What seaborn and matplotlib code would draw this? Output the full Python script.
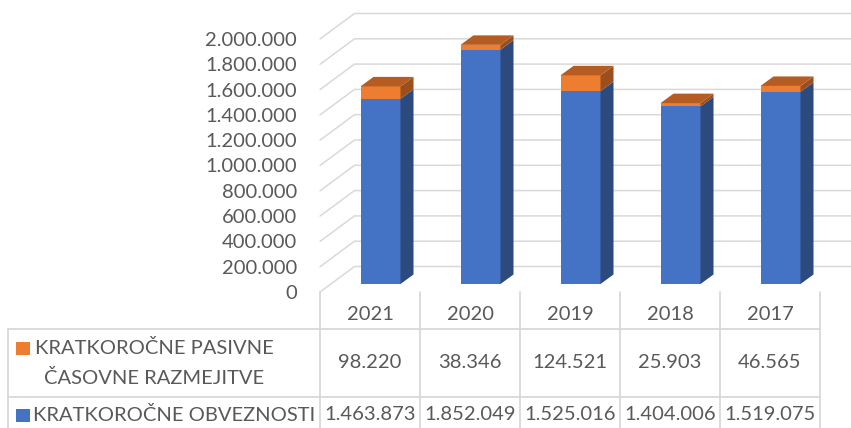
import matplotlib
matplotlib.use("Agg")
import matplotlib.pyplot as plt
import matplotlib.transforms as mtransforms
from matplotlib.lines import Line2D
from matplotlib.patches import Polygon, Rectangle
import seaborn as sns
import pandas as pd

# ---- data -------------------------------------------------------------
years = ["2021", "2020", "2019", "2018", "2017"]
pasivne_razmejitve = [98220, 38346, 124521, 25903, 46565]
obveznosti = [1463873, 1852049, 1525016, 1404006, 1519075]
label_razmejitve = ["KRATKOROČNE PASIVNE", "ČASOVNE RAZMEJITVE"]
label_obveznosti = "KRATKOROČNE OBVEZNOSTI"
y_ticks = list(range(0, 2000001, 200000))

# ---- style ------------------------------------------------------------
BLUE = "#4472C4"
BLUE_SIDE = "#2C4A7E"
ORANGE = "#ED7D31"
ORANGE_TOP = "#B45C22"
ORANGE_SIDE = "#9C4F1C"
GRID = "#D9D9D9"
TEXT = "#595959"
FS = 14.5

sns.set_theme(style="white")
plt.rcParams["font.family"] = ["Lato", "DejaVu Sans"]


def fmt(v):
    return f"{v:,}".replace(",", ".")


W, H = 851, 428
fig = plt.figure(figsize=(W / 100, H / 100), dpi=100)
fig.patch.set_facecolor("white")

# front plane of the 3-D plot box
ax = fig.add_axes([320 / W, (H - 292) / H, 500 / W, 278.3 / H])
ax.set_facecolor("none")
ax.set_zorder(1)

df = pd.DataFrame({
    "leto": years,
    "skupaj": [a + b for a, b in zip(obveznosti, pasivne_razmejitve)],
    "obveznosti": obveznosti,
})
sns.barplot(data=df, x="leto", y="skupaj", order=years, color=ORANGE,
            saturation=1, width=0.4, ax=ax, zorder=3)
sns.barplot(data=df, x="leto", y="obveznosti", order=years, color=BLUE,
            saturation=1, width=0.4, ax=ax, zorder=3)

ax.set_xlim(-0.5, 4.5)
ax.set_ylim(0, 2200000)
ax.set_yticks(y_ticks)
ax.set_yticklabels([fmt(v) for v in y_ticks], fontsize=FS, color=TEXT)
ax.tick_params(axis="y", length=0, pad=16.6)
ax.set_xticks([])
ax.set_xlabel("")
ax.set_ylabel("")
for s in ax.spines.values():
    s.set_visible(False)

ident = mtransforms.IdentityTransform()
to_disp = ax.transData.transform

# depth offsets in pixels: bars sit slightly behind the front plane
BAR_SHIFT = (10.5, 8.0)
BAR_DEPTH = (13.0, 9.5)
WALL_DEPTH = (34.5, 25.5)

bar_tr = ax.transData + mtransforms.ScaledTranslation(
    BAR_SHIFT[0] / 100, BAR_SHIFT[1] / 100, fig.dpi_scale_trans)
for p in ax.patches:
    p.set_transform(bar_tr)
    p.set_edgecolor("none")

# back wall and side wall gridlines (behind the axes content)
for v in y_ticks:
    fx, fy = to_disp((-0.5, v))
    bx, by = fx + WALL_DEPTH[0], fy + WALL_DEPTH[1]
    fig.add_artist(Line2D([fx, bx, W + 10], [fy, by, by], color=GRID,
                          lw=1.1, transform=ident, zorder=0.5))

# side and top faces of every bar
dx, dy = BAR_DEPTH
for i, (b, r) in enumerate(zip(obveznosti, pasivne_razmejitve)):
    x1 = i + 0.2
    x0 = i - 0.2
    r0 = bar_tr.transform((x1, 0))
    rb = bar_tr.transform((x1, b))
    rt = bar_tr.transform((x1, b + r))
    lt = bar_tr.transform((x0, b + r))
    side_blue = [r0, rb, (rb[0] + dx, rb[1] + dy), (r0[0] + dx, r0[1] + dy)]
    side_orange = [rb, rt, (rt[0] + dx, rt[1] + dy), (rb[0] + dx, rb[1] + dy)]
    top = [lt, rt, (rt[0] + dx, rt[1] + dy), (lt[0] + dx, lt[1] + dy)]
    for poly, col in ((side_blue, BLUE_SIDE), (side_orange, ORANGE_SIDE),
                      (top, ORANGE_TOP)):
        fig.add_artist(Polygon(poly, closed=True, facecolor=col,
                               edgecolor="none", transform=ident, zorder=4))

# ---- data table -------------------------------------------------------
def ypix(y):
    return H - y

col_x = [to_disp((i - 0.5, 0))[0] for i in range(len(years) + 1)]
row_lines = [329, 397]
for x in col_x:
    fig.add_artist(Line2D([x, x], [ypix(292), ypix(H + 5)], color=GRID,
                          lw=1.3, transform=ident))
fig.add_artist(Line2D([8, 8], [ypix(329), ypix(H + 5)], color=GRID,
                      lw=1.3, transform=ident))
for y in row_lines:
    fig.add_artist(Line2D([8, col_x[-1]], [ypix(y), ypix(y)], color=GRID,
                          lw=1.3, transform=ident))

for i, yr in enumerate(years):
    cx = (col_x[i] + col_x[i + 1]) / 2
    fig.text(cx, ypix(315), yr, transform=ident, ha="center", va="center",
             fontsize=FS, color=TEXT)
    fig.text(cx, ypix(363), fmt(pasivne_razmejitve[i]), transform=ident,
             ha="center", va="center", fontsize=FS, color=TEXT)
    fig.text(cx, ypix(415), fmt(obveznosti[i]), transform=ident,
             ha="center", va="center", fontsize=FS, color=TEXT)

fig.text(154, ypix(348), label_razmejitve[0], transform=ident, ha="center",
         va="center", fontsize=FS, color=TEXT)
fig.text(154, ypix(378), label_razmejitve[1], transform=ident, ha="center",
         va="center", fontsize=FS, color=TEXT)
fig.text(174, ypix(415), label_obveznosti, transform=ident, ha="center",
         va="center", fontsize=FS, color=TEXT)

fig.add_artist(Rectangle((16, ypix(355)), 14, 13, facecolor=ORANGE,
                         edgecolor="none", transform=ident))
fig.add_artist(Rectangle((16, ypix(422)), 14, 13, facecolor=BLUE,
                         edgecolor="none", transform=ident))

fig.savefig("out.png", dpi=100, facecolor="white")
